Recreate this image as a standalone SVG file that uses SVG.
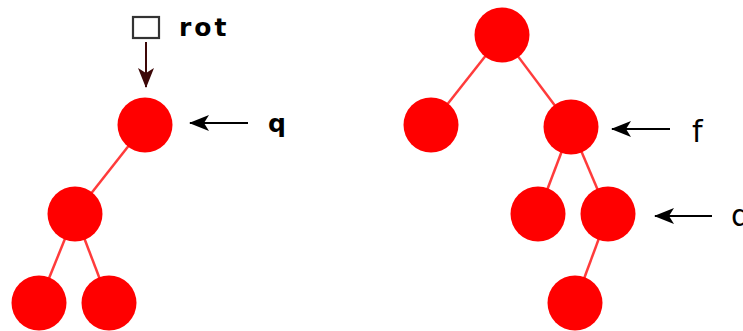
<svg xmlns="http://www.w3.org/2000/svg" width="743" height="331" viewBox="0 0 743 331">
<defs>
<marker id="ahk" viewBox="0 0 20 16" refX="19" refY="8" markerWidth="20" markerHeight="16" markerUnits="userSpaceOnUse" orient="auto">
<path d="M0,0 L20,8 L0,16 L5,8 Z" fill="#000"/>
</marker>
<marker id="ahm" viewBox="0 0 20 16" refX="19" refY="8" markerWidth="20" markerHeight="16" markerUnits="userSpaceOnUse" orient="auto">
<path d="M0,0 L20,8 L0,16 L5,8 Z" fill="#3d0808"/>
</marker>
</defs>
<style>
.n{fill:#ff0000;}
.e{stroke:#ff3b3b;stroke-width:2.5;fill:none;}
.p{stroke:#000;stroke-width:2;fill:none;marker-end:url(#ahk);}
.lb{font-family:"DejaVu Sans","Liberation Sans",sans-serif;font-size:30px;fill:#000;}
.bd{font-family:"DejaVu Sans","Liberation Sans",sans-serif;font-weight:bold;font-size:25px;fill:#000;}
</style>
<rect width="743" height="331" fill="#fff"/>
<g id="connectors">
<line class="e" x1="145" y1="125" x2="75" y2="214"/>
<line class="e" x1="75" y1="214" x2="39" y2="303"/>
<line class="e" x1="75" y1="214" x2="109" y2="303"/>
<line class="e" x1="502" y1="35" x2="431" y2="125"/>
<line class="e" x1="502" y1="35" x2="571" y2="127"/>
<line class="e" x1="571" y1="127" x2="538" y2="214"/>
<line class="e" x1="571" y1="127" x2="608" y2="214"/>
<line class="e" x1="608" y1="214" x2="575" y2="303"/>
<line x1="146" y1="42" x2="146" y2="87" stroke="#3d0808" stroke-width="2" marker-end="url(#ahm)"/>
<line class="p" x1="248" y1="123" x2="190" y2="123"/>
<line class="p" x1="670" y1="129" x2="612" y2="129"/>
<line class="p" x1="712" y1="216" x2="655" y2="216"/>
</g>
<g id="rot">
<rect x="133" y="17" width="26" height="21" fill="#fff" stroke="#333" stroke-width="2.2"/>
<text class="bd" x="179" y="36" letter-spacing="3">rot</text>
</g>
<g id="n-q"><circle class="n" cx="145" cy="125" r="27.5"/></g>
<g id="n-l1"><circle class="n" cx="75" cy="214" r="27.5"/></g>
<g id="n-l2"><circle class="n" cx="39" cy="303" r="27.5"/></g>
<g id="n-l3"><circle class="n" cx="109" cy="303" r="27.5"/></g>
<g id="n-r0"><circle class="n" cx="502" cy="35" r="27.5"/></g>
<g id="n-r1"><circle class="n" cx="431" cy="125" r="27.5"/></g>
<g id="n-f"><circle class="n" cx="571" cy="127" r="27.5"/></g>
<g id="n-r3"><circle class="n" cx="538" cy="214" r="27.5"/></g>
<g id="n-q2"><circle class="n" cx="608" cy="214" r="27.5"/></g>
<g id="n-r5"><circle class="n" cx="575" cy="303" r="27.5"/></g>
<g id="labels">
<text class="bd" x="268" y="132">q</text>
<text class="lb" x="692" y="142">f</text>
<text class="lb" x="731" y="226" font-size="25">q</text>
</g>
</svg>
